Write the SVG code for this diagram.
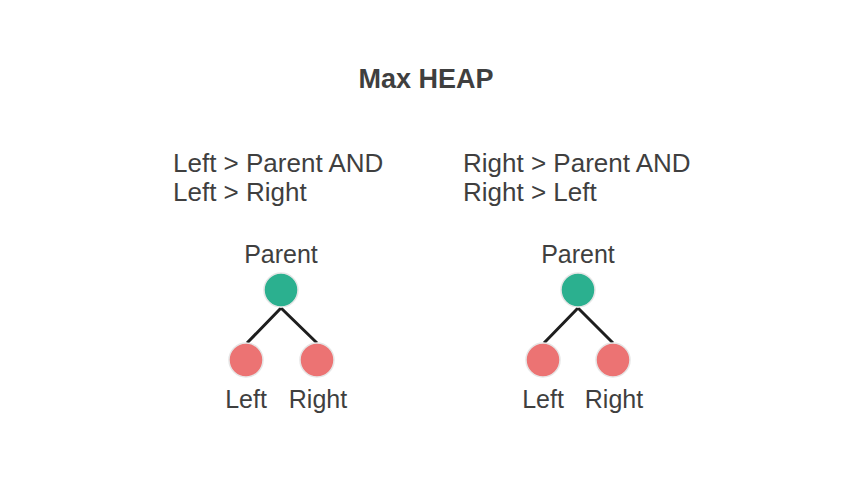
<svg xmlns="http://www.w3.org/2000/svg" width="853" height="480" viewBox="0 0 853 480">
<style>
text{font-family:"Liberation Sans",Arial,sans-serif;fill:#3f3f3f;font-size:26px}
.t{font-weight:bold;font-size:27px;text-anchor:middle}
.c{text-anchor:middle;font-size:25px}
.p{fill:#2bb08f;stroke:#e6e6e6;stroke-width:1.5}
.k{fill:#ec7373;stroke:#e6e6e6;stroke-width:1.5}
.e{stroke:#1e1e1e;stroke-width:3;fill:none}
</style>
<rect width="853" height="480" fill="#fff"/>
<text class="t" x="426" y="88">Max HEAP</text>
<text x="173" y="172">Left &gt; Parent AND</text>
<text x="173" y="201">Left &gt; Right</text>
<text x="463" y="172">Right &gt; Parent AND</text>
<text x="463" y="201">Right &gt; Left</text>
<g id="connectors">
<path class="e" d="M281 308L247 343M281 308L317 343"/>
<path class="e" d="M578 308L544 343M578 308L613 343"/>
</g>
<g id="parent1"><circle class="p" cx="281" cy="290" r="17"/><text class="c" x="281" y="263">Parent</text></g>
<g id="left1"><circle class="k" cx="246" cy="360" r="17"/><text class="c" x="246" y="408">Left</text></g>
<g id="right1"><circle class="k" cx="317" cy="360" r="17"/><text class="c" x="318" y="408">Right</text></g>
<g id="parent2"><circle class="p" cx="578" cy="290" r="17"/><text class="c" x="578" y="263">Parent</text></g>
<g id="left2"><circle class="k" cx="543" cy="360" r="17"/><text class="c" x="543" y="408">Left</text></g>
<g id="right2"><circle class="k" cx="613" cy="360" r="17"/><text class="c" x="614" y="408">Right</text></g>
</svg>
